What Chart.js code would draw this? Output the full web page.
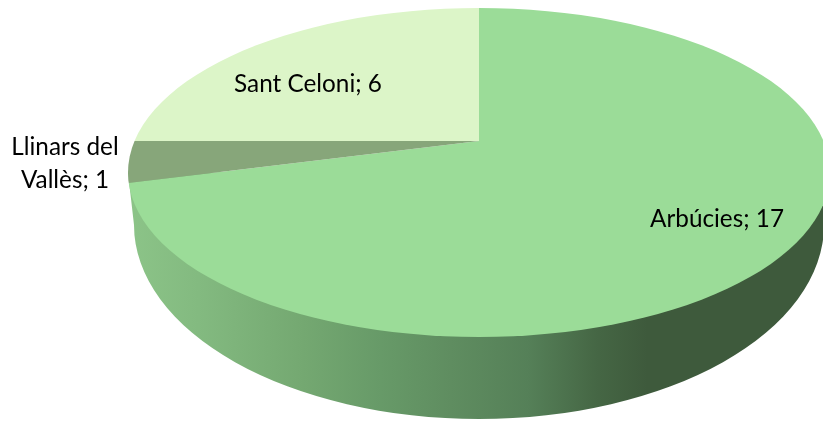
<!DOCTYPE html>
<html>
<head>
<meta charset="utf-8">
<style>
  html, body { margin: 0; padding: 0; background: #fff; overflow: hidden; }
  canvas { display: block; }
</style>
<script src="https://cdn.jsdelivr.net/npm/chart.js@4"></script>
</head>
<body>
<canvas id="pie" width="823" height="421"></canvas>
<script>
// data
const categories = ['Arbúcies', 'Llinars del Vallès', 'Sant Celoni'];
const values = [17, 1, 6];
const sliceColors = ['#9BDC98', '#87A67A', '#DCF5C8'];

// fake 3D geometry: top face, its rim and the point the wedges meet
const topFace = { x: 479, y: 172.5, rx: 351, ry: 164.5 };
const rim = { x: 479, y: 225, rx: 345, ry: 194 };
const hub = { x: 479, y: 141, squash: 0.447 };

// label placement: centre x, baseline y of each line
const labelLines = [
    { x: 717, ys: [227] },
    { x: 65, ys: [155, 188], wrap: ['Llinars del', 'Vallès; 1'] },
    { x: 308, ys: [92] }
];

const pie3d = {
    id: 'pie3d',
    beforeDatasetsDraw(chart) {
        const ctx = chart.ctx;
        const arc = chart.getDatasetMeta(0).data[0];

        // side wall
        const wall = ctx.createLinearGradient(topFace.x - topFace.rx, 0, topFace.x + topFace.rx, 0);
        wall.addColorStop(0, '#8CC488');
        wall.addColorStop(0.1, '#83BA80');
        wall.addColorStop(0.25, '#74A871');
        wall.addColorStop(0.36, '#679A68');
        wall.addColorStop(0.46, '#5F8D60');
        wall.addColorStop(0.57, '#558058');
        wall.addColorStop(0.67, '#456644');
        wall.addColorStop(0.74, '#3E5A3C');
        wall.addColorStop(1, '#3E5A3C');
        ctx.save();
        ctx.fillStyle = wall;
        ctx.beginPath();
        ctx.moveTo(topFace.x - topFace.rx, topFace.y);
        ctx.lineTo(rim.x - rim.rx, rim.y);
        ctx.ellipse(rim.x, rim.y, rim.rx, rim.ry, 0, Math.PI, 0, true);
        ctx.lineTo(topFace.x + topFace.rx, topFace.y);
        ctx.closePath();
        ctx.fill();
        ctx.restore();

        // wedges are oversized and cut down to the top face
        ctx.save();
        ctx.beginPath();
        ctx.ellipse(topFace.x, topFace.y, topFace.rx, topFace.ry, 0, 0, Math.PI * 2);
        ctx.clip();
        ctx.translate(hub.x, hub.y);
        ctx.scale(1, hub.squash);
        ctx.translate(-arc.x, -arc.y);
    },
    afterDatasetsDraw(chart) {
        const ctx = chart.ctx;
        ctx.restore();

        ctx.save();
        ctx.fillStyle = '#000';
        ctx.font = '24.3px Lato';
        ctx.textAlign = 'center';
        ctx.textBaseline = 'alphabetic';
        labelLines.forEach((place, i) => {
            const lines = place.wrap || [categories[i] + '; ' + values[i]];
            lines.forEach((text, j) => ctx.fillText(text, place.x, place.ys[j]));
        });
        ctx.restore();
    }
};

new Chart(document.getElementById('pie'), {
    type: 'pie',
    data: {
        labels: categories,
        datasets: [{
            data: values,
            backgroundColor: sliceColors,
            borderWidth: 0,
            radius: 480,
            clip: false
        }]
    },
    options: {
        responsive: false,
        animation: false,
        plugins: {
            legend: { display: false },
            tooltip: { enabled: false }
        }
    },
    plugins: [pie3d]
});
</script>
</body>
</html>
